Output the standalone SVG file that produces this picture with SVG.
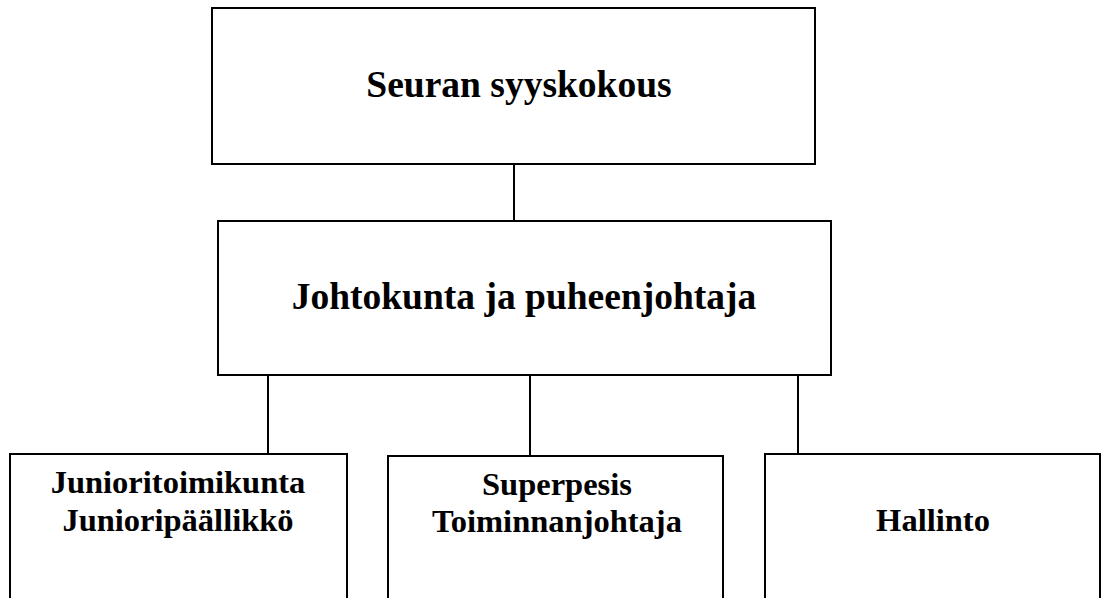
<svg xmlns="http://www.w3.org/2000/svg" width="1104" height="598" viewBox="0 0 1104 598">
<style>
.box{fill:#fff;stroke:#000;stroke-width:2}
.ln{stroke:#000;stroke-width:2;fill:none}
text{font-family:"Liberation Serif","Times New Roman",serif;font-weight:bold;fill:#000;text-anchor:middle}
.t1{font-size:37.5px}
.t2{font-size:37.5px}
.t3{font-size:32.5px}
</style>
<rect width="1104" height="598" fill="#fff"/>
<g id="connectors">
<line class="ln" x1="514" y1="164" x2="514" y2="221"/>
<line class="ln" x1="268" y1="373" x2="268" y2="454"/>
<line class="ln" x1="530" y1="372" x2="530" y2="456"/>
<line class="ln" x1="798" y1="372" x2="798" y2="454"/>
</g>
<g id="n1">
<rect class="box" x="212" y="8" width="603" height="156"/>
<text class="t1" x="519" y="97">Seuran syyskokous</text>
</g>
<g id="n2">
<rect class="box" x="218" y="221" width="613" height="154"/>
<text class="t2" x="524" y="309">Johtokunta ja puheenjohtaja</text>
</g>
<g id="n3">
<rect class="box" x="10" y="454" width="337" height="150"/>
<text class="t3" x="178" y="493">Junioritoimikunta</text>
<text class="t3" x="178" y="531">Junioripäällikkö</text>
</g>
<g id="n4">
<rect class="box" x="388" y="456" width="335" height="150"/>
<text class="t3" x="557" y="495">Superpesis</text>
<text class="t3" x="557" y="532">Toiminnanjohtaja</text>
</g>
<g id="n5">
<rect class="box" x="765" y="454" width="335" height="150"/>
<text class="t3" x="933" y="531">Hallinto</text>
</g>
</svg>
